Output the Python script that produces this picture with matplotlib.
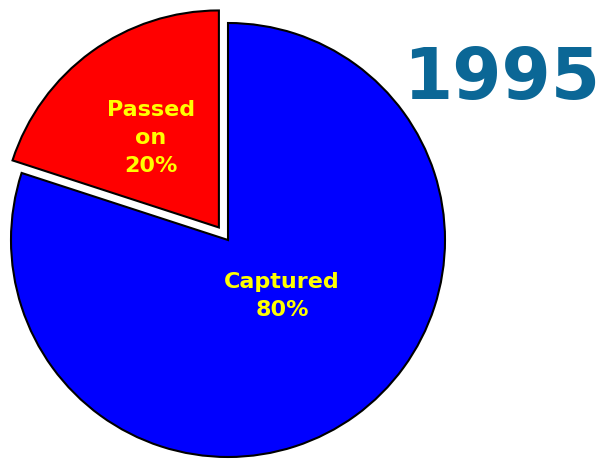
import matplotlib.pyplot as plt

# pie data
labels = ['Captured', 'Passed\non']
shares = [80, 20]
colors = ['#0000FF', '#FF0000']
year = '1995'

fig = plt.figure(figsize=(6.07, 4.59), dpi=100)
ax = fig.add_axes([0, 0, 1, 1])

# draw pie in pixel-like units so it sits where the original did
wedges, _ = ax.pie(shares, colors=colors, startangle=90, counterclock=False,
                   explode=[0, 15.5], radius=217, center=(228, 219),
                   wedgeprops={'edgecolor': 'black', 'linewidth': 1.5})
ax.set_xlim(0, 607)
ax.set_ylim(0, 459)
ax.set_aspect('equal')
ax.axis('off')

# slice labels
ax.text(282, 459 - 296, f'{labels[0]}\n{shares[0]}%', ha='center', va='center',
        color='#FFFF00', fontsize=16, fontweight='bold', linespacing=1.5)
ax.text(151, 459 - 138, f'{labels[1]}\n{shares[1]}%', ha='center', va='center',
        color='#FFFF00', fontsize=16, fontweight='bold', linespacing=1.5)

# year title
ax.text(502, 459 - 79, year, ha='center', va='center', color='#0B6796',
        fontsize=51, fontweight='bold')

fig.savefig('out.png', dpi=100)
